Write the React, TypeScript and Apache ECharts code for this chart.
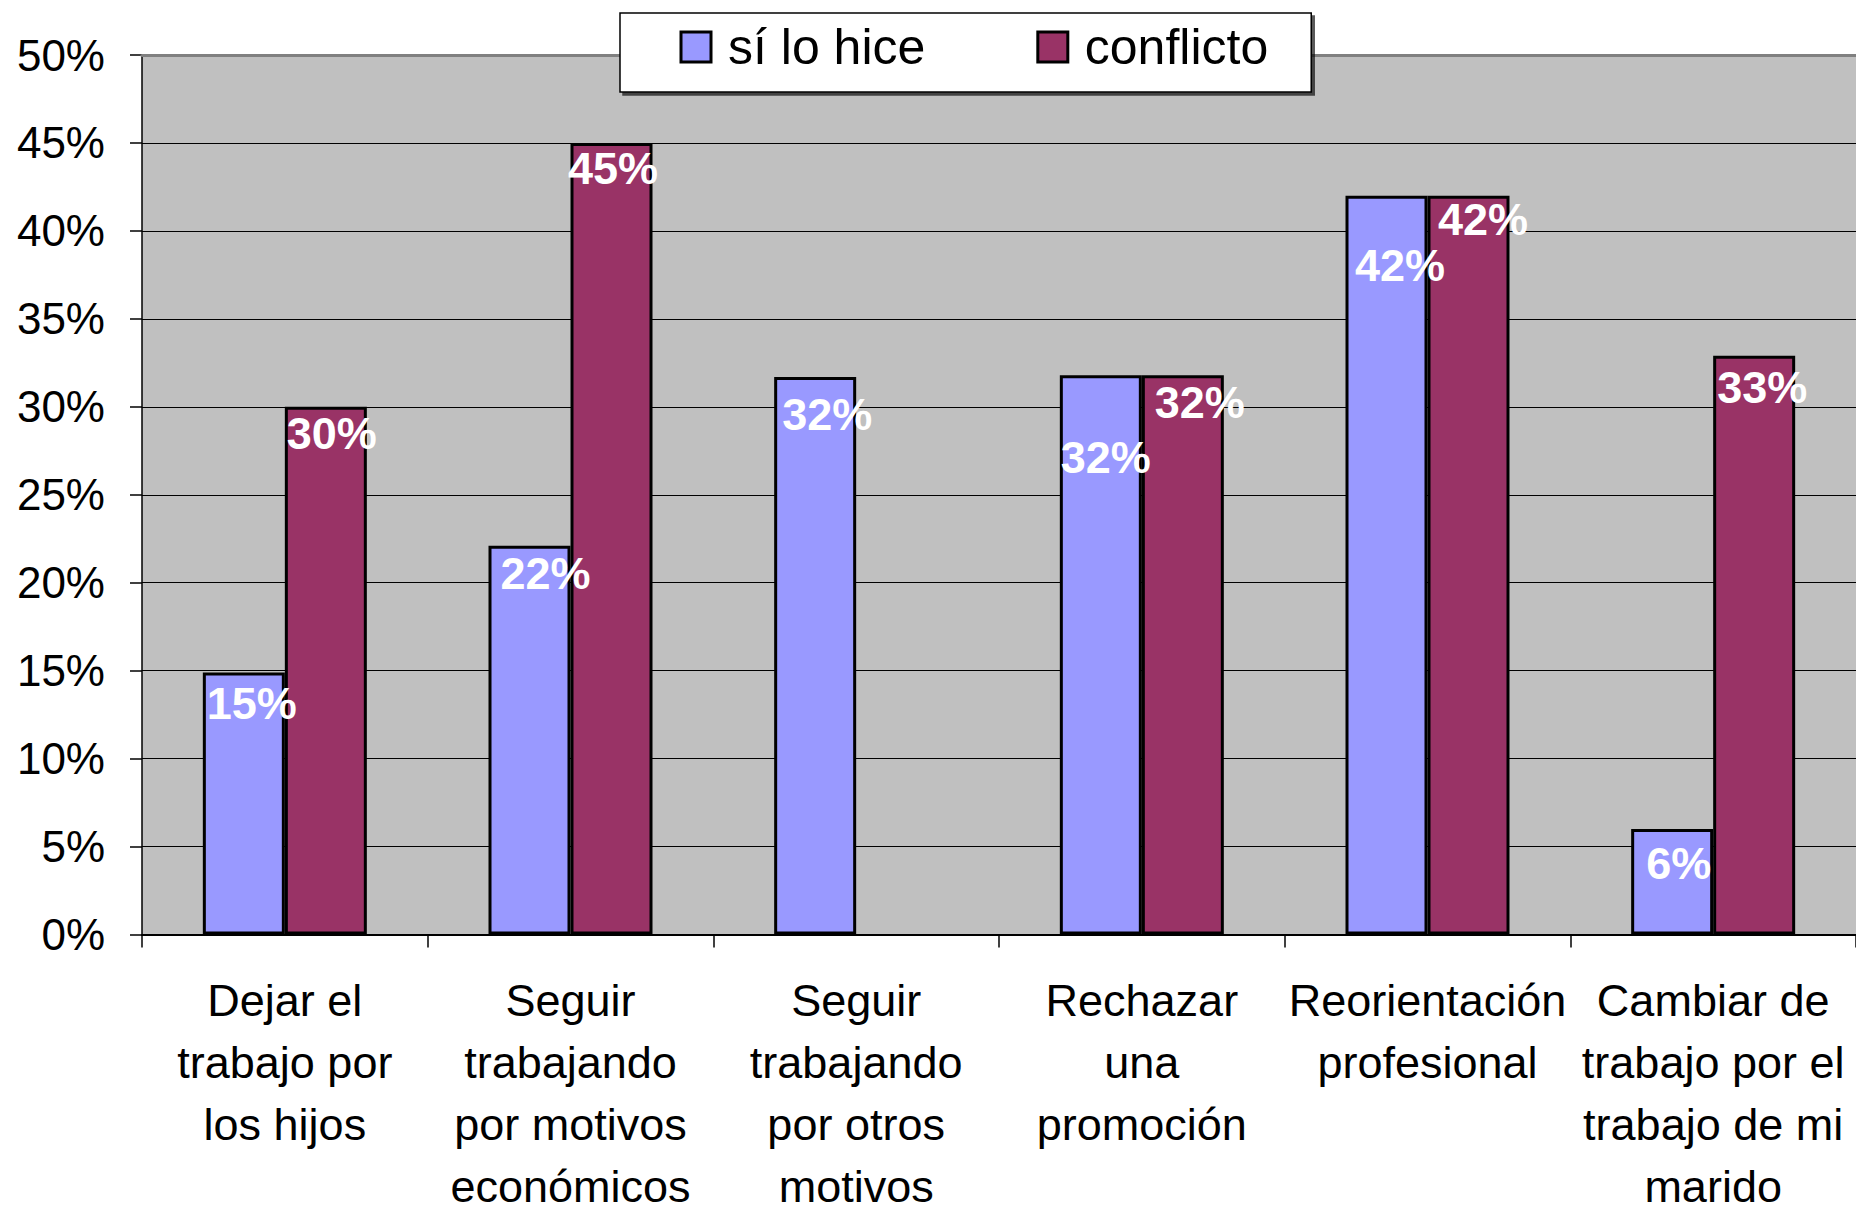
import React, { useEffect, useRef } from "react";
import * as echarts from "echarts";

const categories = [
  "Dejar el\ntrabajo por\nlos hijos",
  "Seguir\ntrabajando\npor motivos\necon\u00f3micos",
  "Seguir\ntrabajando\npor otros\nmotivos",
  "Rechazar\nuna\npromoci\u00f3n",
  "Reorientaci\u00f3n\nprofesional",
  "Cambiar de\ntrabajo por el\ntrabajo de mi\nmarido",
];
const seriesNames = ["s\u00ed lo hice", "conflicto"];
const siLoHice = [14.9, 22.1, 31.7, 31.8, 42.0, 6.0];
const conflicto = [30.0, 45.0, null, 31.8, 42.0, 32.9];

// label nudges (style only): [dx, dy] per bar
const nudgeSi = [[8, 8.6], [16, 5.6], [12, 15.6], [5, 59.6], [13.5, 47.6], [6.5, 11.6]];
const nudgeConf = [[6, 4.6], [1.5, 2.6], [0, 0], [17, 4.6], [14.5, 1.6], [8, 9.6]];

const FONT = '"Liberation Sans", Arial, sans-serif';

export default function App() {
  const ref = useRef<HTMLDivElement>(null);
  useEffect(() => {
    if (!ref.current) return;
    const chart = echarts.init(ref.current, null, { renderer: "svg" });
    const labelBase = {
      show: true,
      position: "insideTop",
      distance: 0,
      color: "#fff",
      fontWeight: "bold",
      fontSize: 45,
      lineHeight: 45,
      fontFamily: FONT,
      formatter: (p: any) => (p.value == null ? "" : Math.round(p.value) + "%"),
    };
    const mk = (vals: (number | null)[], nudges: number[][]) =>
      vals.map((v, i) => ({ value: v, label: { offset: nudges[i] } }));
    chart.setOption({
      animation: false,
      backgroundColor: "#fff",
      grid: {
        left: 142,
        right: 0,
        top: 55,
        bottom: 277.5,
        show: true,
        backgroundColor: "#C0C0C0",
        borderWidth: 0,
        containLabel: false,
        outerBoundsMode: "none",
      },
      legend: {
        z: 20,
        left: 620,
        top: 13,
        orient: "horizontal",
        icon: "rect",
        itemWidth: 30,
        itemHeight: 30,
        itemGap: 111,
        padding: [9, 43, 20, 59.5],
        backgroundColor: "#fff",
        borderColor: "#000",
        borderWidth: 1.5,
        shadowColor: "rgba(0,0,0,0.65)",
        shadowOffsetX: 3,
        shadowOffsetY: 3,
        shadowBlur: 0,
        itemStyle: { borderColor: "#000", borderWidth: 3 },
        textStyle: {
          fontSize: 50,
          lineHeight: 50,
          fontFamily: FONT,
          color: "#000",
          padding: [0, 0, 0, 12],
        },
        data: seriesNames,
      },
      xAxis: [
        {
          type: "category",
          data: categories,
          axisLine: { show: true, lineStyle: { color: "#000", width: 2 } },
          axisTick: { show: true, length: 13, lineStyle: { color: "#000", width: 1.5 } },
          axisLabel: {
            fontSize: 45,
            lineHeight: 62,
            fontFamily: FONT,
            color: "#000",
            margin: 35,
            interval: 0,
            align: "center",
          },
          splitLine: { show: false },
        },
        {
          type: "category",
          data: categories,
          position: "top",
          z: 3,
          axisLine: { show: true, lineStyle: { color: "#808080", width: 3 } },
          axisTick: { show: false },
          axisLabel: { show: false },
          splitLine: { show: false },
        },
      ],
      yAxis: {
        type: "value",
        min: 0,
        max: 50,
        interval: 5,
        axisLine: { show: true, lineStyle: { color: "#000", width: 1.5 } },
        axisTick: { show: true, length: 12, lineStyle: { color: "#000", width: 1.5 } },
        axisLabel: {
          formatter: "{value}%",
          fontSize: 44,
          fontFamily: FONT,
          color: "#000",
          margin: 37,
        },
        splitLine: { show: true, lineStyle: { color: "#000", width: 1 } },
      },
      series: [
        {
          name: seriesNames[0],
          type: "bar",
          barWidth: 82,
          barGap: "0%",
          itemStyle: { color: "#9999FF", borderColor: "#000", borderWidth: 3 },
          label: labelBase,
          data: mk(siLoHice, nudgeSi),
        },
        {
          name: seriesNames[1],
          type: "bar",
          barWidth: 82,
          barGap: "0%",
          itemStyle: { color: "#993366", borderColor: "#000", borderWidth: 3 },
          label: labelBase,
          data: mk(conflicto, nudgeConf),
        },
      ],
    });
    return () => chart.dispose();
  }, []);
  return (
    <div
      ref={ref}
      style={{ position: "fixed", left: 0, top: 0, width: 1856, height: 1212, background: "#fff" }}
    />
  );
}
